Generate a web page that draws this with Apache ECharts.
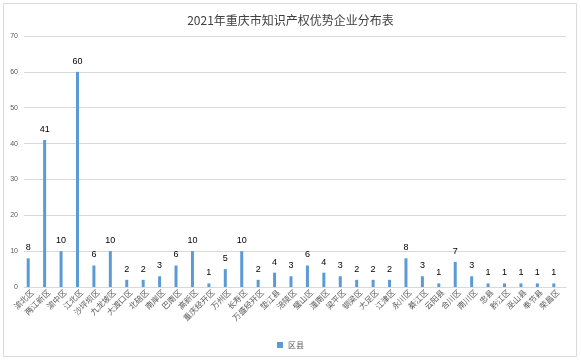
<!DOCTYPE html>
<html><head><meta charset="utf-8">
<script src="https://cdn.jsdelivr.net/npm/echarts@6/dist/echarts.min.js"></script>
<style>html,body{margin:0;padding:0;background:#fff}#c{width:581px;height:360px}</style>
</head><body><div id="c"></div>
<script>
const categories = ['渝北区','两江新区','渝中区','江北区','沙坪坝区','九龙坡区','大渡口区','北碚区','南岸区','巴南区','高新区','重庆经开区','万州区','长寿区','万盛经开区','垫江县','涪陵区','璧山区','潼南区','梁平区','铜梁区','大足区','江津区','永川区','綦江区','云阳县','合川区','南川区','忠县','黔江区','巫山县','奉节县','荣昌区'];
const values = [8,41,10,60,6,10,2,2,3,6,10,1,5,10,2,4,3,6,4,3,2,2,2,8,3,1,7,3,1,1,1,1,1];
const yTicks = [0,10,20,30,40,50,60,70];
const chart = echarts.init(document.getElementById('c'));
chart.setOption({
  animation:false,
  title:{text:'2021年重庆市知识产权优势企业分布表',left:'center',top:9,textStyle:{fontSize:12,fontWeight:'normal',color:'#404040',fontFamily:'Noto Sans CJK SC'}},
  legend:{data:['区县'],bottom:6,left:'center',itemWidth:6,itemHeight:6,icon:'rect',textStyle:{fontSize:8,color:'#595959',fontFamily:'Noto Sans CJK SC'}},
  grid:{left:24,right:15,top:36,bottom:73},
  graphic:[{type:'rect',shape:{x:3.5,y:3.5,width:573,height:353},style:{fill:'none',stroke:'#d9d9d9',lineWidth:1}}],
  xAxis:{type:'category',data:categories,
    axisLine:{lineStyle:{color:'#d9d9d9'}},axisTick:{show:false},
    axisLabel:{interval:0,rotate:45,fontSize:8,color:'#595959',margin:4,fontFamily:'Noto Sans CJK SC'}},
  yAxis:{type:'value',min:yTicks[0],max:yTicks[yTicks.length-1],interval:10,
    axisLine:{show:false},axisTick:{show:false},
    axisLabel:{fontSize:7,color:'#595959',margin:6},
    splitLine:{lineStyle:{color:'#d9d9d9'}}},
  series:[
    {name:'区县',type:'bar',data:values,barWidth:3,barGap:'167%',itemStyle:{color:'#5b9bd5'},
     label:{show:true,position:'top',fontSize:9,color:'#000',distance:6}},
    {name:'dummy',type:'bar',data:values.map(()=>null),barWidth:3}
  ]
});
</script></body></html>
